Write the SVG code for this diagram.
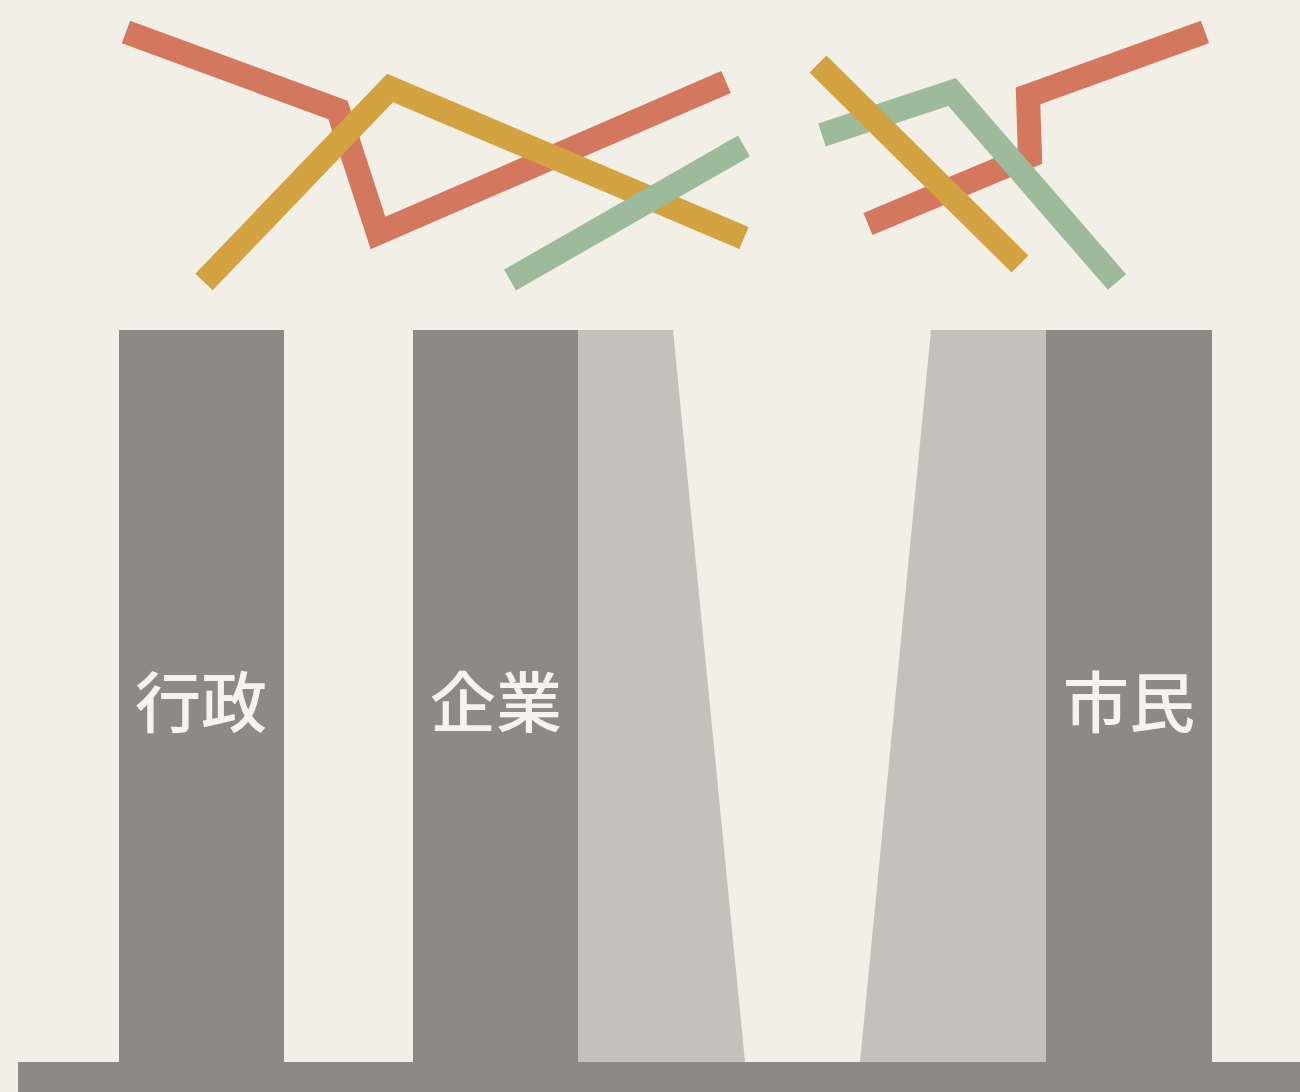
<svg xmlns="http://www.w3.org/2000/svg" width="1300" height="1092" viewBox="0 0 1300 1092">
<style>
.bg{fill:#F2EFE7}
.dark{fill:#8D8A85}
.light{fill:#C4C1BA}
.ln{fill:none;stroke-width:24;stroke-linecap:butt;stroke-linejoin:miter}
.red{stroke:#D4775F}
.mus{stroke:#D2A340}
.grn{stroke:#9DBB9B}
.lbl{font-family:"Noto Sans CJK JP","Noto Sans CJK SC",sans-serif;font-size:66px;font-weight:500;fill:#F5F3EE;text-anchor:middle}
</style>
<rect class="bg" x="0" y="0" width="1300" height="1092"/>
<g id="shadows">
<polygon class="light" points="578,330 673,330 745,1062 578,1062"/>
<polygon class="light" points="931,330 1046,330 1046,1062 860,1062"/>
</g>
<g id="node-gyosei">
<rect class="dark" x="119" y="330" width="165" height="732"/>
<text class="lbl" x="201" y="727">行政</text>
</g>
<g id="node-kigyo">
<rect class="dark" x="413" y="330" width="165" height="732"/>
<text class="lbl" x="496" y="727">企業</text>
</g>
<g id="node-shimin">
<rect class="dark" x="1046" y="330" width="166" height="732"/>
<text class="lbl" x="1129" y="727">市民</text>
</g>
<g id="base">
<rect class="dark" x="18" y="1062" width="1282" height="30"/>
</g>
<g id="connectors">
<polyline class="ln red" points="126,32 338,110 378,233 726,82"/>
<polyline class="ln mus" points="204,282 390,88 744,238"/>
<polyline class="ln grn" points="510,280 744,146"/>
<polyline class="ln red" points="868,224 1030,156 1028,96 1205,32"/>
<polyline class="ln grn" points="822,135 952,92 1117,282"/>
<polyline class="ln mus" points="818,64 1020,264"/>
</g>
</svg>
